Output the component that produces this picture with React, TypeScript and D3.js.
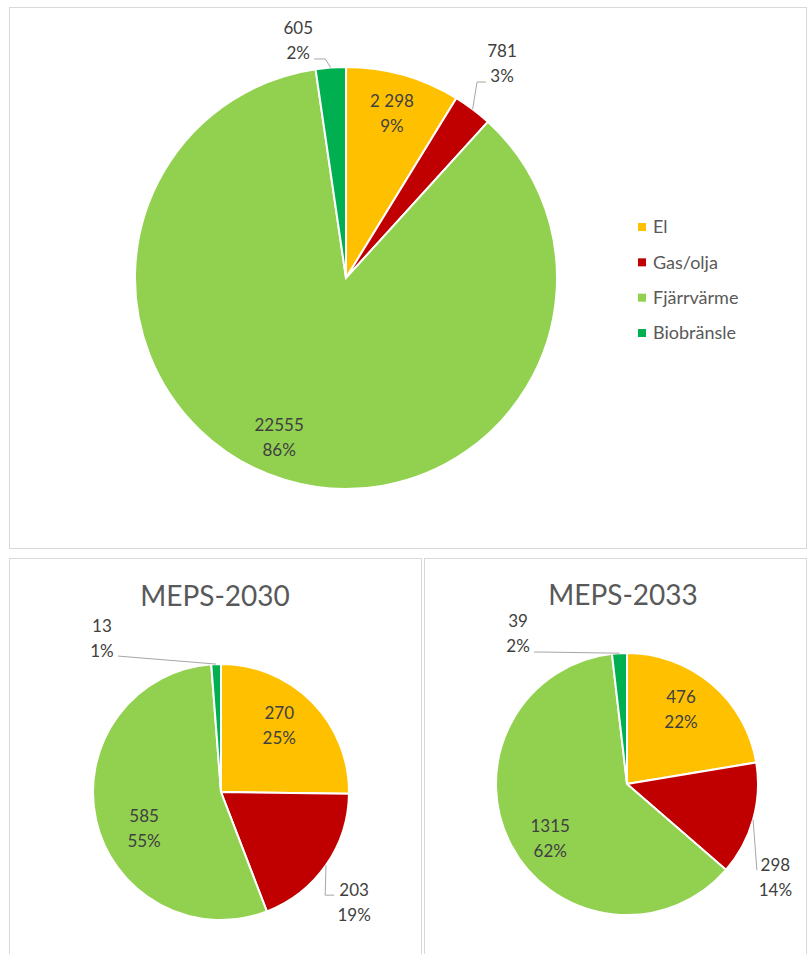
import * as d3 from 'd3';

// categories and colours shared by all three pies
const categories = ['El', 'Gas/olja', 'Fjärrvärme', 'Biobränsle'];
const colors = ['#FFC000', '#C00000', '#92D050', '#00B050'];

// values per chart
const totalValues = [2298, 781, 22555, 605];
const totalValueLabels = ['2 298', '781', '22555', '605'];
const meps2030Values = [270, 203, 585, 13];
const meps2033Values = [476, 298, 1315, 39];

const titles = ['', 'MEPS-2030', 'MEPS-2033'];

type Leader = { dx: number; dy: number; elbow: number };
type LabelPlace = { angle: number; r: number; leader?: Leader };

// label placement (polar, relative to the pie) as Excel put them
const totalLabelPlaces: LabelPlace[] = [
  { angle: 15.6, r: 0.81 },
  { angle: 36.1, r: 1.255, leader: { dx: -16, dy: 18, elbow: -9 } },
  { angle: 202.8, r: 0.818 },
  { angle: 348.6, r: 1.146, leader: { dx: 16, dy: 18, elbow: 11 } },
];
const meps2030LabelPlaces: LabelPlace[] = [
  { angle: 41.3, r: 0.69 },
  { angle: 129.6, r: 1.35, leader: { dx: -20, dy: -7, elbow: -9 } },
  { angle: 244.3, r: 0.667 },
  { angle: 322.2, r: 1.517, leader: { dx: 16, dy: 17.5, elbow: 0 } },
];
const meps2033LabelPlaces: LabelPlace[] = [
  { angle: 35.8, r: 0.705 },
  { angle: 122.1, r: 1.337, leader: { dx: -18.5, dy: -7, elbow: 0 } },
  { angle: 234.5, r: 0.72 },
  { angle: 324, r: 1.415, leader: { dx: 16, dy: 18, elbow: 9 } },
];

const FONT = 'Lato, "Open Sans", sans-serif';

function polar(cx: number, cy: number, angleRad: number, dist: number): [number, number] {
  return [cx + dist * Math.sin(angleRad), cy - dist * Math.cos(angleRad)];
}

function Pie({
  values,
  valueLabels,
  places,
  cx,
  cy,
  radius,
}: {
  values: number[];
  valueLabels?: string[];
  places: LabelPlace[];
  cx: number;
  cy: number;
  radius: number;
}) {
  const total = d3.sum(values);
  const pie = d3.pie<number>().sort(null).value((d) => d);
  const arcs = pie(values);
  const arc = d3.arc<d3.PieArcDatum<number>>().innerRadius(0).outerRadius(radius);

  return (
    <g>
      <g transform={`translate(${cx},${cy})`}>
        {arcs.map((a, i) => (
          <path key={i} d={arc(a) || ''} fill={colors[i]} stroke="#fff" strokeWidth={2} />
        ))}
      </g>
      {arcs.map((a, i) => {
        const p = places[i];
        const [lx, ly] = polar(cx, cy, (p.angle * Math.PI) / 180, p.r * radius);
        const label = valueLabels ? valueLabels[i] : String(values[i]);
        const pct = `${Math.round((values[i] / total) * 100)}%`;
        let leader = null;
        if (p.leader) {
          const mid = (a.startAngle + a.endAngle) / 2;
          const edge = polar(cx, cy, mid, radius);
          const ax = lx + p.leader.dx;
          const ay = ly + p.leader.dy;
          const pts: [number, number][] = [edge, [ax + p.leader.elbow, ay], [ax, ay]];
          leader = (
            <path d={d3.line()(pts) || ''} fill="none" stroke="#a6a6a6" strokeWidth={1} />
          );
        }
        return (
          <g key={i}>
            {leader}
            <text
              x={lx}
              y={ly - 12.5}
              dy="0.35em"
              textAnchor="middle"
              fontSize={17}
              fill="#404040"
            >
              {label}
            </text>
            <text
              x={lx}
              y={ly + 12.5}
              dy="0.35em"
              textAnchor="middle"
              fontSize={17}
              fill="#404040"
            >
              {pct}
            </text>
          </g>
        );
      })}
    </g>
  );
}

export default function App() {
  const legendY = d3.scalePoint<string>().domain(categories).range([227, 333]);

  return (
    <div style={{ position: 'absolute', left: 0, top: 0 }}>
      <svg width={807} height={954} style={{ display: 'block', fontFamily: FONT }}>
        <rect width={807} height={954} fill="#fff" />
        {/* panels */}
        <rect x={9.5} y={7.5} width={797} height={541} fill="#fff" stroke="#d9d9d9" />
        <rect x={9.5} y={558.5} width={412} height={420} fill="#fff" stroke="#d9d9d9" />
        <rect x={424.5} y={558.5} width={382} height={420} fill="#fff" stroke="#d9d9d9" />

        <Pie
          values={totalValues}
          valueLabels={totalValueLabels}
          places={totalLabelPlaces}
          cx={346}
          cy={278}
          radius={211}
        />

        {/* legend */}
        {categories.map((c, i) => (
          <g key={c} transform={`translate(638,${legendY(c)})`}>
            <rect x={0} y={-4} width={8} height={8} fill={colors[i]} />
            <text x={15} y={0} dy="0.35em" fontSize={18} fill="#595959">
              {c}
            </text>
          </g>
        ))}

        <text x={215} y={606} textAnchor="middle" fontSize={28} fill="#595959">
          {titles[1]}
        </text>
        <Pie values={meps2030Values} places={meps2030LabelPlaces} cx={221} cy={792} radius={128} />

        <text x={623} y={605} textAnchor="middle" fontSize={28} fill="#595959">
          {titles[2]}
        </text>
        <Pie values={meps2033Values} places={meps2033LabelPlaces} cx={627} cy={784} radius={131} />
      </svg>
    </div>
  );
}
